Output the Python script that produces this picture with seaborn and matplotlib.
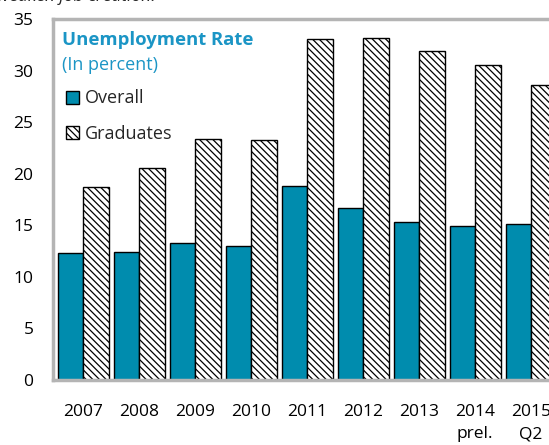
import numpy as np
import pandas as pd
import seaborn as sns
import matplotlib.pyplot as plt

# 数据
years = ['2007', '2008', '2009', '2010', '2011', '2012', '2013', '2014\nprel.', '2015\nQ2']
overall = [12.3, 12.4, 13.3, 13.0, 18.8, 16.7, 15.3, 14.9, 15.1]
graduates = [18.7, 20.6, 23.4, 23.3, 33.1, 33.2, 31.9, 30.5, 28.6]
series_names = ['Overall', 'Graduates']

df = pd.DataFrame({
    'year': years * 2,
    'series': [series_names[0]] * len(years) + [series_names[1]] * len(years),
    'value': overall + graduates,
})

sns.set_style('white')
plt.rcParams['font.family'] = ['Open Sans', 'DejaVu Sans']
plt.rcParams['hatch.linewidth'] = 0.9

teal = '#008cae'
title_blue = '#1b95c5'
spine_gray = '#b4b4b4'

fig = plt.figure(figsize=(5.49, 4.45), dpi=100)
ax = fig.add_axes([53 / 549, 65 / 445, 1 - 53 / 549, 361 / 445])

sns.barplot(data=df, x='year', y='value', hue='series',
            palette=[teal, 'white'], saturation=1, width=0.91,
            edgecolor='black', linewidth=1.0, legend=False, ax=ax)

# 斜线填充 Graduates
for bar in ax.containers[1]:
    bar.set_hatch('\\\\\\\\\\')

ax.set_xlim(-0.54, 8.32)
ax.set_ylim(0, 35)
ax.set_yticks(np.arange(0, 36, 5))
ax.set_xlabel('')
ax.set_ylabel('')

for side in ['left', 'bottom', 'top']:
    ax.spines[side].set_color(spine_gray)
    ax.spines[side].set_linewidth(2.5)
ax.spines['right'].set_visible(False)

ax.tick_params(axis='y', direction='in', length=5, width=1.5, color=spine_gray,
               labelsize=12.5, pad=14, labelcolor='black')
ax.tick_params(axis='x', which='major', length=0, labelsize=12.5, pad=17,
               labelcolor='black')
ax.set_xticks(np.arange(len(years) - 1) + 0.5, minor=True)
ax.tick_params(axis='x', which='minor', direction='in', length=4, width=1.5,
               color=spine_gray)
for lab in ax.get_xticklabels():
    lab.set_linespacing(1.55)
    lab.set_verticalalignment('top')

# 标题
ax.text(0.018, 0.942, 'Unemployment Rate', transform=ax.transAxes,
        fontsize=13.3, fontweight='bold', color=title_blue, va='center')
ax.text(0.018, 0.873, '(In percent)', transform=ax.transAxes,
        fontsize=13, color=title_blue, va='center')

handles = [ax.containers[0][0], ax.containers[1][0]]
ax.legend(handles, series_names, loc='upper left', bbox_to_anchor=(0.0, 0.84),
          frameon=False, fontsize=13, handlelength=0.72, handleheight=0.72,
          handletextpad=0.35, labelspacing=0.95, borderaxespad=0.3)

# 上一页被截断的文字
fig.text(-0.005, 1 - 1 / 445, 'weaken job creation.', fontsize=12.5,
         style='italic', va='baseline', ha='left')

fig.savefig('out.png', dpi=100)
